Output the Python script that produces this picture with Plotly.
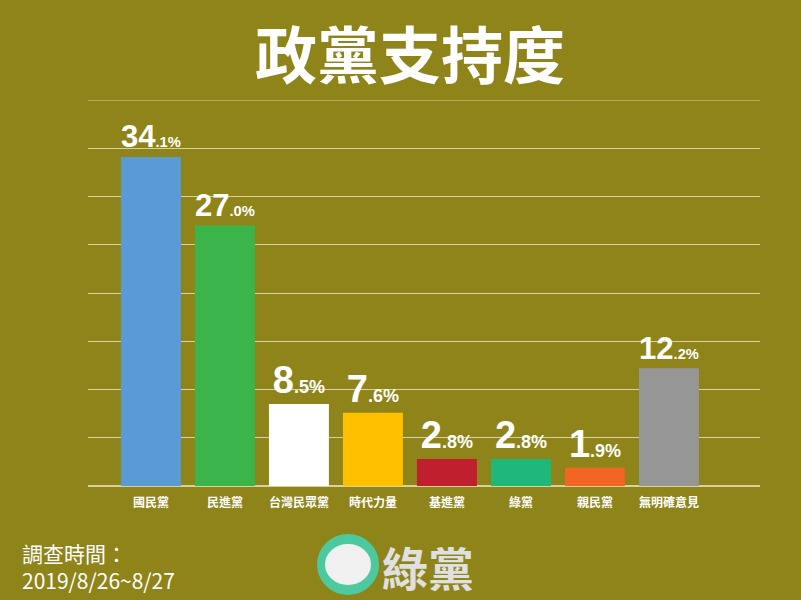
import plotly.graph_objects as go

categories = ["國民黨", "民進黨", "台灣民眾黨", "時代力量", "基進黨", "綠黨", "親民黨", "無明確意見"]
values = [34.1, 27.0, 8.5, 7.6, 2.8, 2.8, 1.9, 12.2]
colors = ["#5B9BD5", "#3BB54A", "#FFFFFF", "#FFC000", "#C0202E", "#1FB77A", "#F26522", "#969696"]

def label(v):
    s = f"{v:.1f}"
    i, d = s.split(".")
    return f"<b>{i}<span style='font-size:18px'>.{d}%</span></b>"

bg = "#8E8419"
W, L = 672, 88
H = 386
def px(x): return (x - L) / W
def py(y): return (486 - y) / H

fig = go.Figure(go.Bar(
    x=categories, y=values, marker=dict(color=colors, line=dict(width=0)),
    width=0.81, text=[label(v) for v in values], textposition="outside",
    textfont=dict(size=38, color="white", family="Liberation Sans Narrow, Liberation Sans, Arial"),
    cliponaxis=False,
))
fig.update_layout(
    width=801, height=600, paper_bgcolor=bg, plot_bgcolor=bg,
    margin=dict(l=88, r=41, t=100, b=114), showlegend=False,
    xaxis=dict(range=[-0.85, 8.23], showgrid=False, ticks="", showline=False, ticklabelstandoff=8,
               tickfont=dict(size=12, color="white", family="Noto Sans CJK TC"),
               tickprefix="<b>", ticksuffix="</b>"),
    yaxis=dict(range=[0, 40], dtick=5, showticklabels=False, gridcolor="#D8D2A0", gridwidth=1,
               zeroline=True, zerolinecolor="#D8D2A0", zerolinewidth=1.5),
    annotations=[
        dict(text="<b>政黨支持度</b>", x=px(410), y=py(52), xref="paper", yref="paper",
             xanchor="center", yanchor="middle", showarrow=False,
             font=dict(size=62, color="white", family="Noto Sans CJK TC")),
        dict(text="調查時間：<br>2019/8/26~8/27", x=px(20), y=py(566), xref="paper", yref="paper",
             xanchor="left", yanchor="middle", showarrow=False, align="left",
             font=dict(size=21, color="white", family="Liberation Sans Narrow, Noto Sans CJK TC")),
        dict(text="<b>綠黨</b>", x=px(380), y=py(566), xref="paper", yref="paper",
             xanchor="left", yanchor="middle", showarrow=False,
             font=dict(size=46, color="#E0E0E0", family="Noto Sans CJK TC")),
    ],
)
fig.add_shape(type="line", xref="paper", yref="y", x0=0, x1=1, y0=40, y1=40,
              line=dict(color="#D8D2A0", width=1))
fig.add_shape(type="circle", xref="paper", yref="paper",
              x0=px(318), x1=px(378), y0=py(594), y1=py(535),
              fillcolor="#4DC9A0", line=dict(color="#4DC9A0"))
fig.add_shape(type="circle", xref="paper", yref="paper",
              x0=px(326), x1=px(370), y0=py(584), y1=py(545),
              fillcolor="#F0F0F0", line=dict(color="#F0F0F0"))
fig.write_html("out.html", config={"displayModeBar": False},
               post_script="document.body.style.margin='0';document.body.style.background='#8E8419';")
